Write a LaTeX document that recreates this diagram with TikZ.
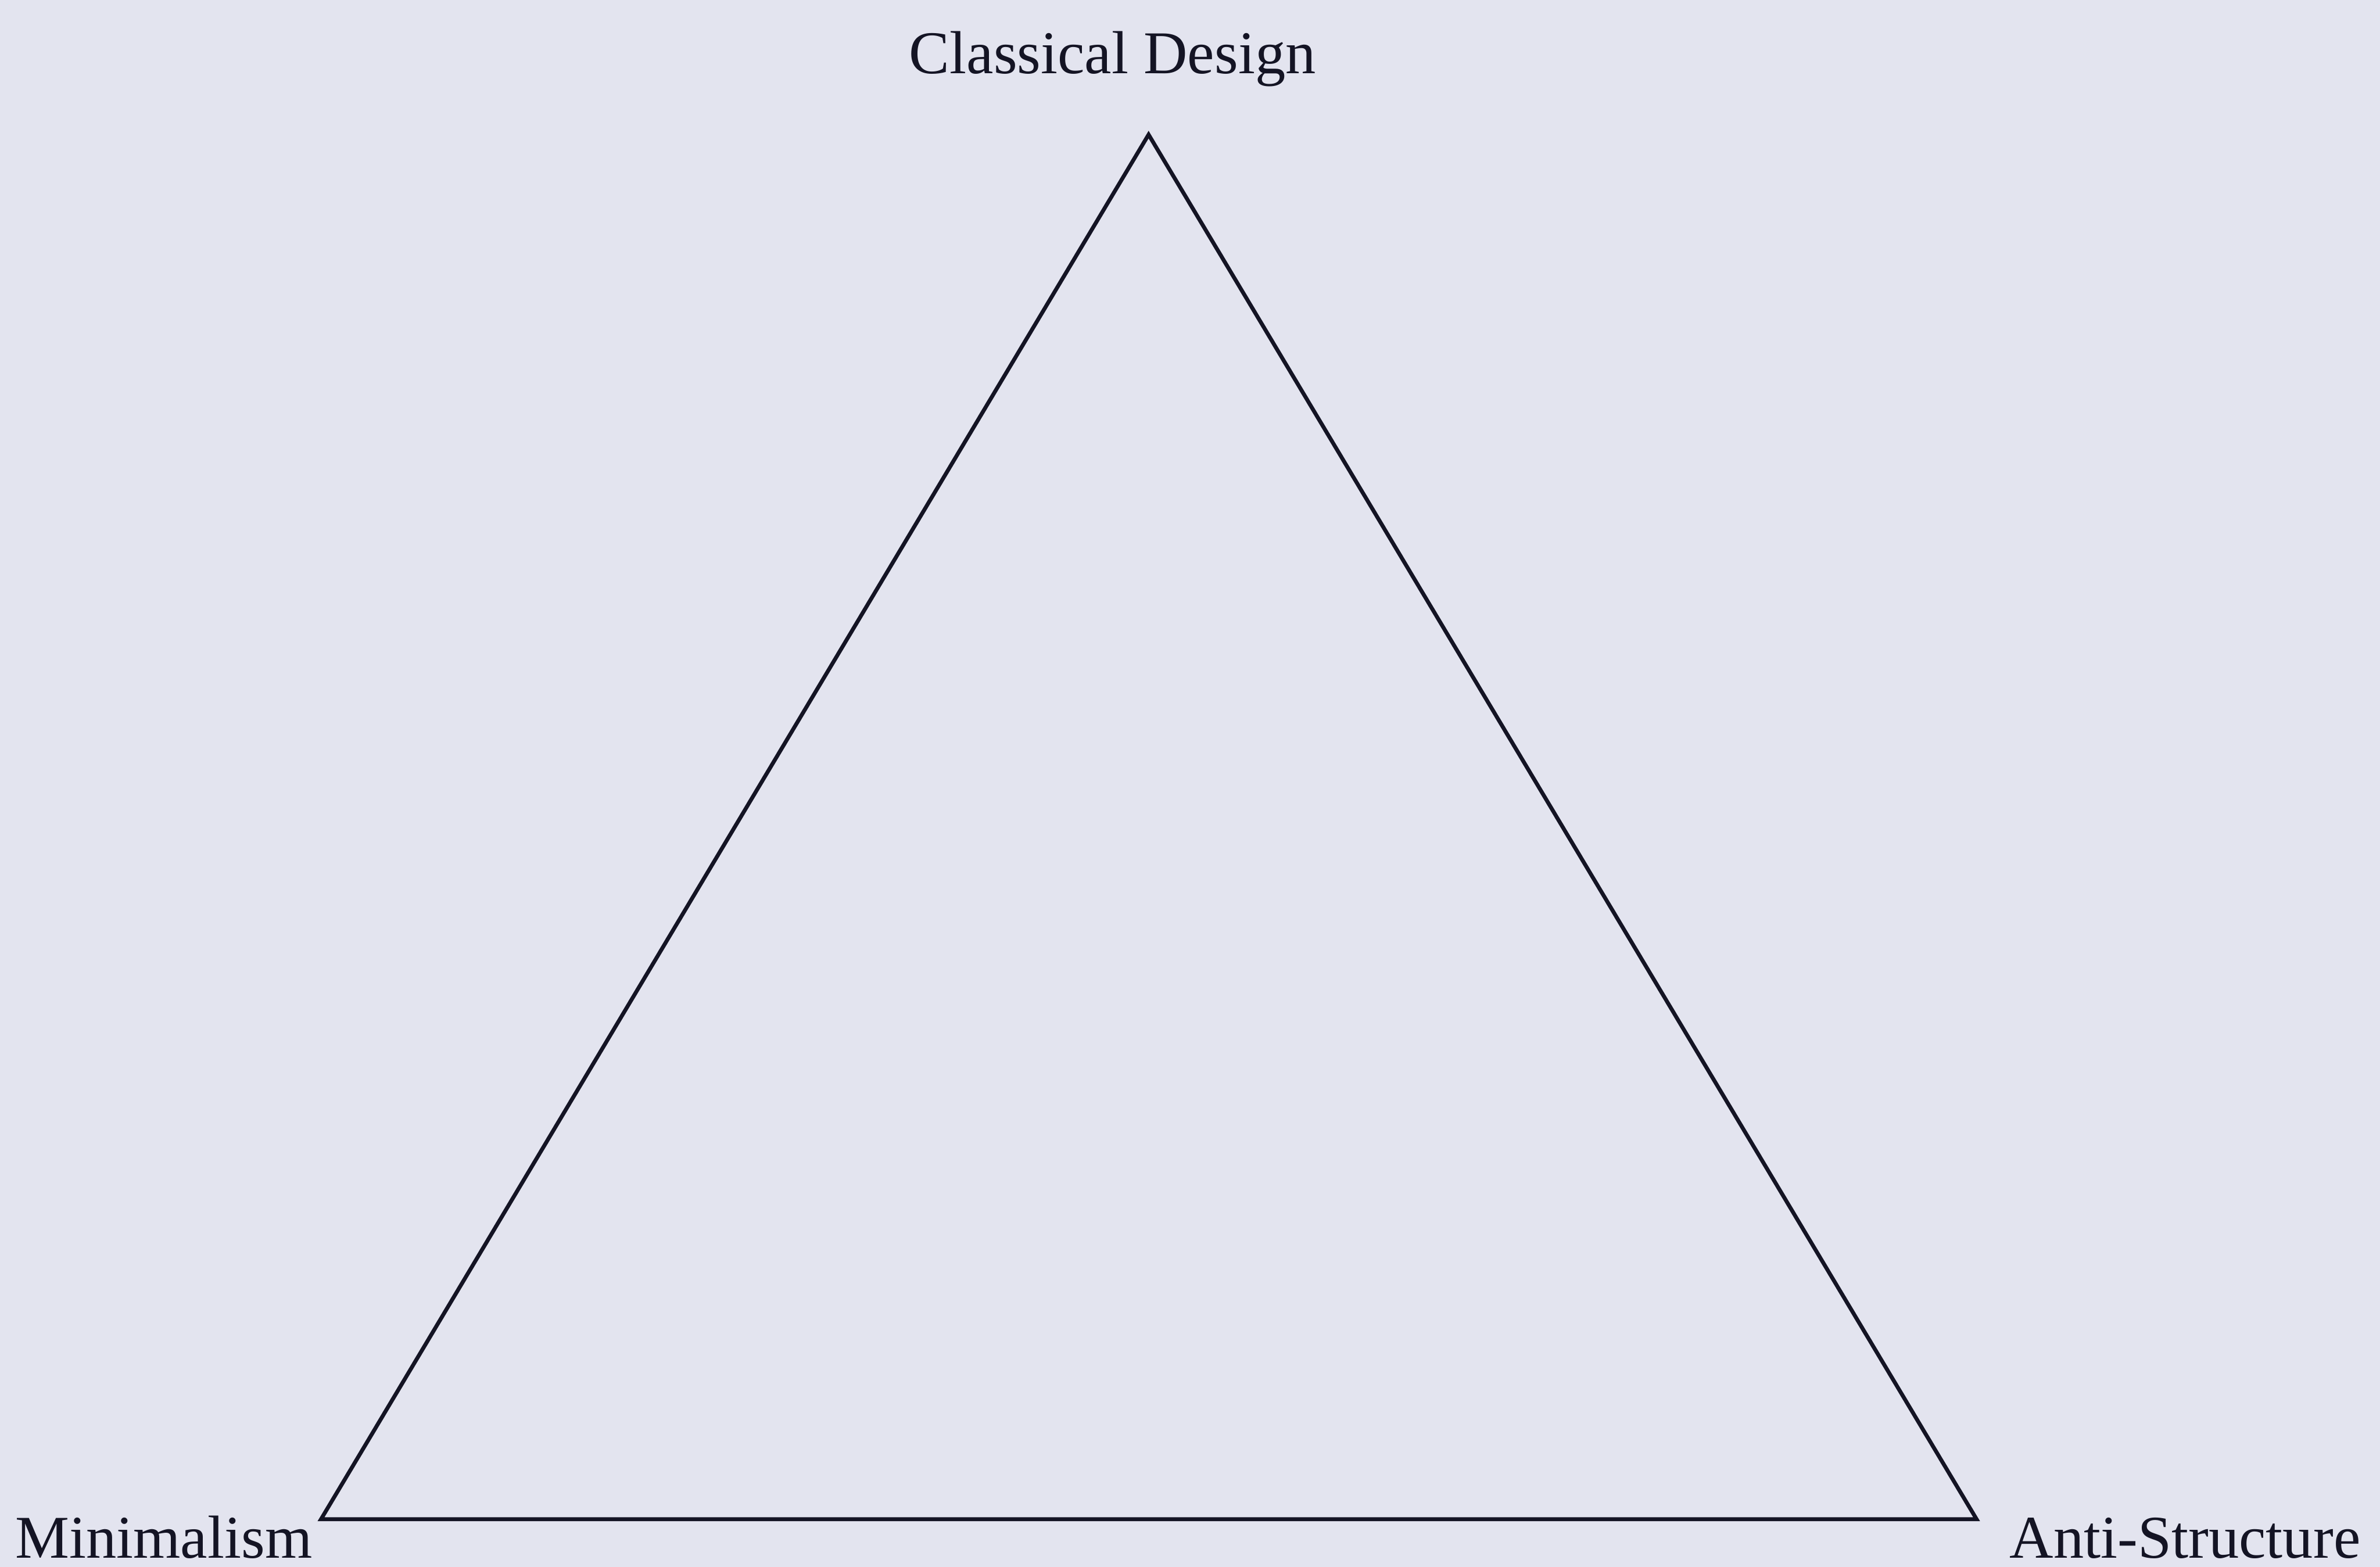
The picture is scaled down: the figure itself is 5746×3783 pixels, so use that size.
\documentclass[tikz,border=0pt]{standalone}
\usepackage{fontspec}
\setmainfont{Liberation Serif}
\definecolor{paper}{RGB}{227,228,239}
\definecolor{ink}{RGB}{20,20,36}
\begin{document}
\begin{tikzpicture}[x=0.01cm,y=-0.01cm,
  lbl/.style={inner sep=0pt,text=ink,font=\fontsize{41.7pt}{50pt}\selectfont},
  edge/.style={draw=ink,line width=2.7pt,line join=miter}]
\fill[paper] (0,0) rectangle (5746,3783);
\useasboundingbox (0,0) rectangle (5746,3783);
\coordinate (top) at (2773,325);
\coordinate (bl) at (775,3668);
\coordinate (br) at (4772,3668);
\draw[edge] (top) -- (bl) -- (br) -- cycle;
\node[lbl,anchor=base] (cd) at (2686,177) {Classical Design};
\node[lbl,anchor=base west] (mn) at (36,3762) {Minimalism};
\node[lbl,anchor=base west] (as) at (4851,3762) {Anti-Structure};
\end{tikzpicture}
\end{document}
